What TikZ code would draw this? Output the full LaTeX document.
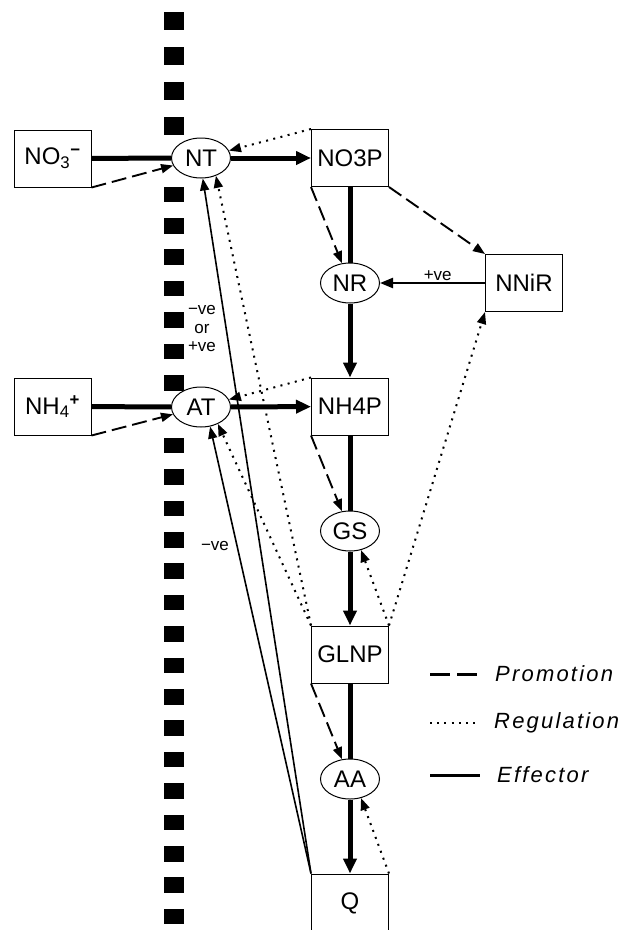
\documentclass[tikz,border=0pt]{standalone}
\usepackage{fontspec}
\setmainfont{Liberation Sans}
\newfontfamily\legendfont[LetterSpace=10]{Liberation Sans}
\usetikzlibrary{shapes.geometric, arrows.meta}

\tikzstyle{pool} = [
    rectangle,
    minimum width=77pt,
    minimum height=57pt,
    inner sep=0pt,
    draw=black,
    line width=1pt,
    fill=white,
    font=\fontsize{24}{27}\selectfont
]
\tikzstyle{enzyme} = [
    ellipse,
    minimum width=59pt,
    minimum height=40pt,
    inner sep=0pt,
    draw=black,
    line width=1pt,
    fill=white,
    font=\fontsize{24}{27}\selectfont
]
\tikzstyle{sign} = [font=\fontsize{17}{18.5}\selectfont, inner sep=1pt]
\tikzstyle{legendtext} = [anchor=west, inner sep=0pt, font=\fontsize{22}{24}\legendfont\itshape]
\tikzstyle{wall} = [fill=black]
\tikzstyle{effector} = [line width=5pt]
\tikzstyle{bigtip} = [-{Triangle[length=15pt,width=13pt]}]
\tikzstyle{effectorthin} = [line width=1.6pt, -{Triangle[length=12pt,width=9pt]}]
\tikzstyle{promotion} = [line width=1.9pt, dash pattern=on 15pt off 6pt, -{Triangle[length=12pt,width=9pt]}]
\tikzstyle{regulation} = [line width=2pt, dash pattern=on 2pt off 5.4pt, -{Triangle[length=12pt,width=9pt]}]

\begin{document}
\begin{tikzpicture}[x=1pt, y=-1pt]
\useasboundingbox (0,0) rectangle (620,930);

% membrane
\foreach \y in {12,47,82,117}
    \fill[wall] (164,\y) rectangle (184,\y+17.5);
\foreach \k in {0,...,6,8,9,...,23}
    \fill[wall] (164,186.6+31.4*\k) rectangle (184,202.1+31.4*\k);

% pools and enzymes
\node (no3m) [pool] at (52.5,158.5) {NO\textsubscript{3}\textsuperscript{\textbf{−}}};
\node (nt) [enzyme] at (201,158) {NT};
\node (no3p) [pool] at (350,158) {NO3P};
\node (nr) [enzyme] at (350,283) {NR};
\node (nnir) [pool] at (524,283) {NNiR};

\node (nh4m) [pool] at (52.5,406.5) {NH\textsubscript{4}\textsuperscript{\textbf{+}}};
\node (at) [enzyme] at (201,407) {AT};
\node (nh4p) [pool] at (350,406.5) {NH4P};
\node (gs) [enzyme] at (350,531) {GS};
\node (glnp) [pool] at (350,654.5) {GLNP};
\node (aa) [enzyme] at (350,779) {AA};
\node (q) [pool, minimum height=58pt] at (350,903) {Q};

% effectors
\draw [effector] (no3m) -- (nt);
\draw [effector, bigtip] (nt) -- (no3p);
\draw [effector] (no3p) -- (nr);
\draw [effector, bigtip] (nr) -- (nh4p);
\draw [effector] (nh4m) -- (at);
\draw [effector, bigtip] (at) -- (nh4p);
\draw [effector] (nh4p) -- (gs);
\draw [effector, bigtip] (gs) -- (glnp);
\draw [effector] (glnp) -- (aa);
\draw [effector, bigtip] (aa) -- (q);
\draw [line width=2.3pt, -{Triangle[length=13pt,width=10pt]}] (nnir) -- node (lblnnir) [sign, above, pos=0.45] {+ve} (nr);
\draw [effectorthin] (q.north west) -- (nt.-85);
\draw [effectorthin] (q.north west) -- (at.-65);

% promotion
\draw [promotion] (no3m.south east) -- (nt);
\draw [promotion] (nh4m.south east) -- (at);
\draw [promotion] (no3p.south west) -- (nr);
\draw [promotion] (no3p.south east) -- (nnir.north west);
\draw [promotion] (nh4p.south west) -- (gs);
\draw [promotion] (glnp.south west) -- (aa);

% regulation
\draw [regulation] (no3p.north west) -- (nt);
\draw [regulation] (nh4p.north west) -- (at);
\draw [regulation] (glnp.north west) -- (nt.-50);
\draw [regulation] (glnp.north west) -- (at.-45);
\draw [regulation] (glnp.north east) -- (gs.-60);
\draw [regulation] (glnp.north east) -- (nnir.south west);
\draw [regulation] (q.north east) -- (aa.-60);

% signs
\node (lblnt) [sign, align=center] at (202,329) {−ve\\or\\+ve};
\node (lblat) [sign] at (215,546) {−ve};

% legend
\coordinate (p1) at (430,674);
\coordinate (p2) at (480,674);
\coordinate (r1) at (430,723);
\coordinate (r2) at (480,723);
\coordinate (e1) at (430,775);
\coordinate (e2) at (480,775);
\draw [line width=3pt, dash pattern=on 20pt off 7pt] (p1) -- (p2);
\draw [line width=2pt, dash pattern=on 2pt off 5.2pt] (r1) -- (r2);
\draw [line width=3pt] (e1) -- (e2);
\node (promo) [legendtext] at (495,674) {Promotion};
\node (regu) [legendtext] at (494,723) {Regulation};
\node (effe) [legendtext] at (497,775) {Effector};

\end{tikzpicture}
\end{document}
